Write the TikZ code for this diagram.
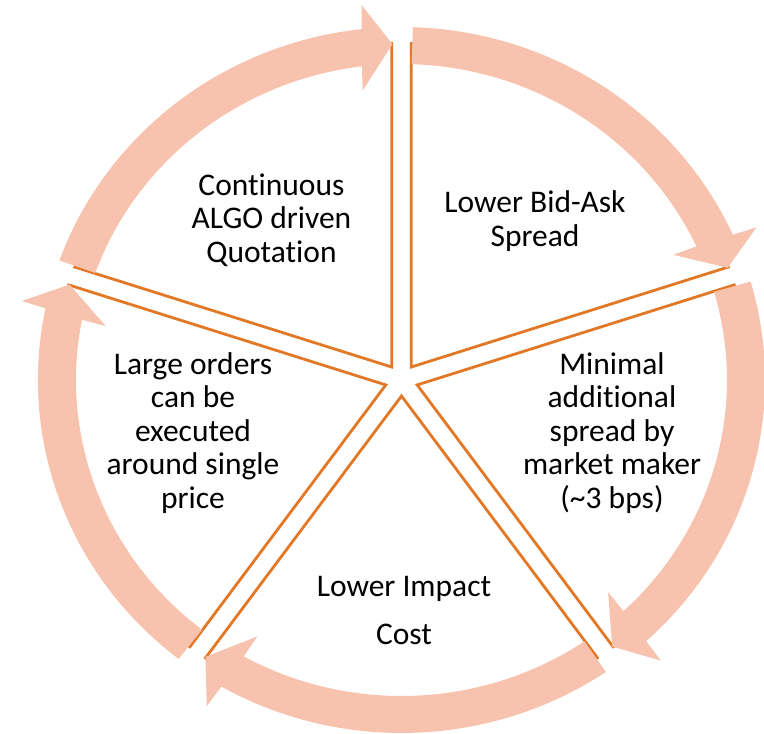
\documentclass[tikz,border=0pt]{standalone}
\usepackage{fontspec}
\setmainfont{Carlito}[Ligatures=NoCommon]
\usetikzlibrary{calc}
\definecolor{ringfill}{RGB}{248,195,174}
\definecolor{wedgeline}{RGB}{226,120,38}
\begin{document}
\begin{tikzpicture}
[x=1pt,y=1pt,%
  segtext/.style={align=center,inner sep=0pt,font=\fontsize{31.5}{33.5}\selectfont},%
  rim/.style={draw=wedgeline,line width=2.8pt},%
  ringarrow/.style={fill=ringfill}]
\useasboundingbox (-401.5,-354) rectangle (362.5,380);
\begin{scope}[xscale=1.03]
\foreach \a in {162,90,18,-54,-126}{
  \coordinate (apex) at (\a-36:16);
  \draw[rim] ($(apex)+(\a:325)$) -- (apex) -- ($(apex)+(\a-72:325)$);
  \fill[ringarrow] (\a-1.8:316) arc[start angle=\a-1.8,end angle=\a-65,radius=316]
    -- (\a-64.6:292) -- (\a-70.5:336) -- (\a-66.1:377) -- (\a-65.7:353)
    arc[start angle=\a-65.7,end angle=\a-1.8,radius=353] -- cycle;
}
\end{scope}
\node[segtext] (quote) at (-130,160) {Continuous\\ALGO driven\\Quotation};
\node[segtext] (spread) at (133.5,159) {Lower Bid-Ask\\Spread};
\node[segtext] (maker) at (210.5,-53) {Minimal\\additional\\spread by\\market maker\\(\textasciitilde3 bps)};
\node[segtext] (impact) at (2.5,-230.5) {Lower Impact\\[14pt]Cost};
\node[segtext] (orders) at (-208.5,-53) {Large orders\\can be\\executed\\around single\\price};
\end{tikzpicture}
\end{document}
